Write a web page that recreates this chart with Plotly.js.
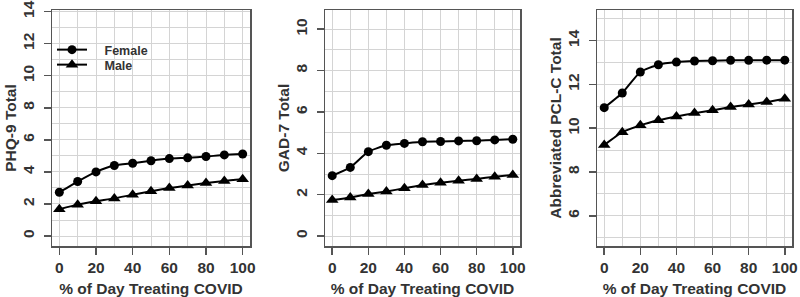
<!DOCTYPE html>
<html><head><meta charset="utf-8">
<script src="https://cdn.plot.ly/plotly-3.0.1.min.js"></script>
<style>body{margin:0;padding:0;background:#fff}#chart{width:800px;height:297px}</style>
</head><body><div id="chart"></div>
<script>
const pctDay = [0, 10, 20, 30, 40, 50, 60, 70, 80, 90, 100];
const phqFemale = [2.73, 3.4, 4.0, 4.4, 4.54, 4.7, 4.83, 4.88, 4.96, 5.06, 5.12];
const phqMale   = [1.67, 1.96, 2.17, 2.35, 2.58, 2.79, 3.0, 3.15, 3.31, 3.44, 3.54];
const gadFemale = [2.92, 3.32, 4.08, 4.39, 4.48, 4.56, 4.57, 4.6, 4.61, 4.65, 4.68];
const gadMale   = [1.74, 1.87, 2.03, 2.16, 2.31, 2.47, 2.58, 2.68, 2.76, 2.87, 2.95];
const pclFemale = [10.94, 11.61, 12.57, 12.9, 13.02, 13.07, 13.08, 13.1, 13.1, 13.11, 13.11];
const pclMale   = [9.23, 9.82, 10.13, 10.36, 10.54, 10.69, 10.82, 10.97, 11.08, 11.2, 11.35];
const yTitles = ["PHQ-9 Total", "GAD-7 Total", "Abbreviated PCL-C Total"];
const xTitle = "% of Day Treating COVID";
const seriesNames = ["Female", "Male"];

const W = 800, H = 297;
const font = {family: "Liberation Sans, Arial, sans-serif", size: 15.5, color: "#333", weight: "bold"};
const lineStyle = {color: "#000", width: 2, shape: "spline", smoothing: 0.5};

function mk(y, name, sym, ax, leg, show) {
  return {x: pctDay, y: y, name: "\u2002\u2002" + name, type: "scatter", mode: "lines+markers",
    xaxis: "x" + ax, yaxis: "y" + ax, line: lineStyle,
    marker: {symbol: sym, size: sym === "circle" ? 9 : 11, color: "#000"},
    showlegend: show, legend: leg};
}
const data = [
  mk(phqFemale, seriesNames[0], "circle", "", "legend", true),
  mk(phqMale, seriesNames[1], "triangle-up", "", "legend2", true),
  mk(gadFemale, seriesNames[0], "circle", "2", "legend", false),
  mk(gadMale, seriesNames[1], "triangle-up", "2", "legend2", false),
  mk(pclFemale, seriesNames[0], "circle", "3", "legend", false),
  mk(pclMale, seriesNames[1], "triangle-up", "3", "legend2", false)
];

const yDom = [(H - 246) / H, (H - 10) / H];
function xa(l, r) {
  return {domain: [l / W, r / W], range: [-4, 104], tickvals: [0, 20, 40, 60, 80, 100],
    showline: true, mirror: true, linecolor: "#555", linewidth: 1.5,
    ticks: "outside", ticklen: 7, tickcolor: "#555", tickwidth: 1.5,
    showgrid: true, gridcolor: "#d4d4d4", gridwidth: 1,
    minor: {dtick: 10, tick0: 0, showgrid: true, gridcolor: "#d4d4d4", gridwidth: 1, ticks: ""},
    zeroline: false, tickfont: font, fixedrange: true,
    title: {text: xTitle, font: font, standoff: 10}};
}
function ya(range, tickvals, title) {
  return {domain: yDom, range: range, tickvals: tickvals, tickangle: -90,
    showline: true, mirror: true, linecolor: "#555", linewidth: 1.5,
    ticks: "outside", ticklen: 7, tickcolor: "#555", tickwidth: 1.5,
    showgrid: true, gridcolor: "#d4d4d4", gridwidth: 1,
    minor: {dtick: 1, tick0: 0, showgrid: true, gridcolor: "#d4d4d4", gridwidth: 1, ticks: ""},
    zeroline: false, tickfont: font, fixedrange: true, ticklabelstandoff: 3,
    title: {text: title, font: font, standoff: 0}};
}
const legFont = {family: font.family, size: 12.5, color: "#333", weight: "bold"};
const legBase = {xanchor: "left", yanchor: "middle", bgcolor: "rgba(0,0,0,0)", font: legFont, borderwidth: 0};
const layout = {
  width: W, height: H, margin: {l: 0, r: 0, t: 0, b: 0},
  paper_bgcolor: "#fff", plot_bgcolor: "#fff", font: font,
  xaxis: xa(52, 250), yaxis: ya([-0.62, 14.1], [0, 2, 4, 6, 8, 10, 12, 14], yTitles[0]),
  xaxis2: Object.assign(xa(325, 520), {anchor: "y2"}),
  yaxis2: Object.assign(ya([-0.48, 10.93], [0, 2, 4, 6, 8, 10], yTitles[1]), {anchor: "x2"}),
  xaxis3: Object.assign(xa(597, 792), {anchor: "y3"}),
  yaxis3: Object.assign(ya([4.62, 15.4], [6, 8, 10, 12, 14], yTitles[2]), {anchor: "x3"}),
  legend: Object.assign({x: 52 / W, y: 1 - 50 / H}, legBase),
  legend2: Object.assign({x: 52 / W, y: 1 - 65 / H}, legBase)
};
layout.xaxis.anchor = "y";
layout.yaxis.anchor = "x";
Plotly.newPlot("chart", data, layout, {staticPlot: true});
</script></body></html>
